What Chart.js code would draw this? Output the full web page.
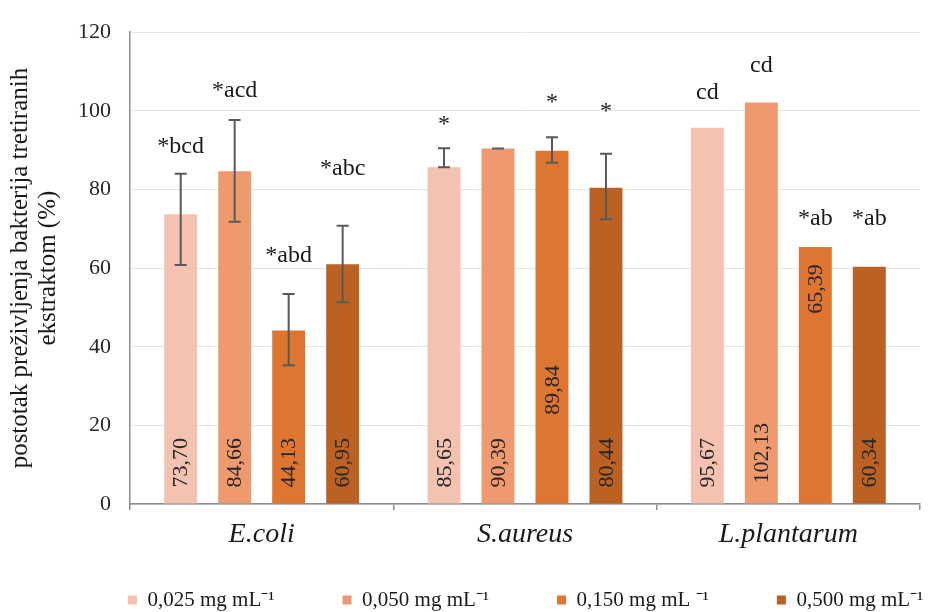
<!DOCTYPE html>
<html><head><meta charset="utf-8">
<script src="https://cdn.jsdelivr.net/npm/chart.js@4"></script>
<style>html,body{margin:0;padding:0;background:#fff}#c{display:block}</style>
</head><body>
<canvas id="c" width="929" height="612"></canvas>
<script>
const categories = ['E.coli', 'S.aureus', 'L.plantarum'];
const seriesNames = ['0,025 mg mL\u207B\u00B9', '0,050 mg mL\u207B\u00B9', '0,150 mg mL \u207B\u00B9', '0,500 mg mL\u207B\u00B9'];
const s025 = [73.70, 85.65, 95.67];
const s050 = [84.66, 90.39, 102.13];
const s150 = [44.13, 89.84, 65.39];
const s500 = [60.95, 80.44, 60.34];
// error bar ends (upper / lower), null = no error bar
const errHigh025 = [84.0, 90.5, null], errLow025 = [60.8, 85.65, null];
const errHigh050 = [97.7, 90.39, null], errLow050 = [71.8, 90.39, null];
const errHigh150 = [53.4, 93.3, null], errLow150 = [35.3, 86.8, null];
const errHigh500 = [70.8, 89.1, null], errLow500 = [51.3, 72.4, null];
// significance letters
const sig025 = ['*bcd', '*', 'cd'];
const sig050 = ['*acd', '', 'cd'];
const sig150 = ['*abd', '*', '*ab'];
const sig500 = ['*abc', '*', '*ab'];
const yTicks = [0, 20, 40, 60, 80, 100, 120];

const seriesValues = [s025, s050, s150, s500];
const errHigh = [errHigh025, errHigh050, errHigh150, errHigh500];
const errLow = [errLow025, errLow050, errLow150, errLow500];
const sigs = [sig025, sig050, sig150, sig500];
// placement of texts (in axis units)
const sigY = [[90.8, 96.5, 104.5], [105.2, null, 111.5], [63.1, 102.0, 72.6], [85.3, 99.8, 72.6]];
const valStart = [[4.2, 4.2, 4.2], [4.2, 4.2, 5.2], [4.2, 22.7, 48.4], [4.2, 4.2, 4.2]];
const colors = ['#F4C2B0', '#EF996E', '#DE7530', '#BC6124'];
const SERIF = '"Liberation Serif", "Times New Roman", serif';
const LEGEND_H = 63;        // height reserved for the legend box
const LEGEND_FIRST_X = 128; // left of first legend swatch
const LEGEND_TEXT_Y = 600;  // vertical centre of legend row

const overlay = {
  id: 'overlay',
  afterDatasetsDraw(chart) {
    const ctx = chart.ctx, ys = chart.scales.y;
    chart.data.datasets.forEach((ds, i) => {
      const meta = chart.getDatasetMeta(i);
      meta.data.forEach((bar, j) => {
        const x = bar.x;
        const hi = errHigh[i][j], lo = errLow[i][j];
        if (hi != null) {
          const yh = ys.getPixelForValue(hi), yl = ys.getPixelForValue(lo);
          ctx.save();
          ctx.strokeStyle = '#595959'; ctx.lineWidth = 2;
          ctx.beginPath();
          ctx.moveTo(x, yh); ctx.lineTo(x, yl);
          ctx.moveTo(x - 6, yh); ctx.lineTo(x + 6, yh);
          ctx.moveTo(x - 6, yl); ctx.lineTo(x + 6, yl);
          ctx.stroke();
          ctx.restore();
        }
        ctx.save();
        ctx.fillStyle = '#262626';
        ctx.font = '22px ' + SERIF;
        ctx.translate(x + 1, ys.getPixelForValue(valStart[i][j]));
        ctx.rotate(-Math.PI / 2);
        ctx.textAlign = 'left'; ctx.textBaseline = 'middle';
        ctx.fillText(seriesValues[i][j].toFixed(2).replace('.', ','), 0, 0);
        ctx.restore();
        const s = sigs[i][j];
        if (s) {
          ctx.save();
          ctx.fillStyle = '#1a1a1a';
          ctx.font = '24px ' + SERIF;
          ctx.textAlign = 'center'; ctx.textBaseline = 'middle';
          ctx.fillText(s, x, ys.getPixelForValue(sigY[i][j]));
          ctx.restore();
        }
      });
    });
  }
};

const legendFix = {
  id: 'legendFix',
  beforeLayout(chart) {
    const l = chart.legend;
    if (l && !l.__fixed) {
      const orig = l.fit;
      l.fit = function () {
        const mw = this.maxWidth;
        this.maxWidth = 5000;
        orig.call(this);
        this.maxWidth = mw;
        this.width = mw;
        this.height = LEGEND_H;
      };
      l.__fixed = true;
    }
  },
  afterLayout(chart) {
    const l = chart.legend;
    const p = l.options.labels.padding;
    const dx = LEGEND_FIRST_X - (l.left + p);
    const fs = l.options.labels.font.size;
    const curY = l.top + p + fs / 2;
    const dy = LEGEND_TEXT_Y - curY;
    l.left += dx; l.right = chart.width + 600; l.top += dy;
    l.bottom = chart.height;
    l.width = l.right - l.left;
    l.height = l.bottom - l.top;
  }
};

new Chart(document.getElementById('c'), {
  type: 'bar',
  data: {
    labels: categories,
    datasets: seriesValues.map((v, i) => ({
      label: seriesNames[i],
      data: v,
      backgroundColor: colors[i],
      borderWidth: 0,
      categoryPercentage: 0.82,
      barPercentage: 0.61
    }))
  },
  options: {
    responsive: false,
    animation: false,
    devicePixelRatio: 1,
    layout: { padding: { top: 22, right: 9, left: 0, bottom: 0 } },
    plugins: {
      tooltip: { enabled: false },
      legend: {
        position: 'bottom',
        align: 'start',
        labels: {
          boxWidth: 9, boxHeight: 9, padding: 68,
          color: '#1a1a1a',
          font: { family: SERIF, size: 21 }
        }
      }
    },
    scales: {
      x: {
        grid: { offset: true, drawOnChartArea: false, drawTicks: true, tickLength: 6, color: '#8c8c8c', lineWidth: 1.5 },
        border: { color: '#8c8c8c', width: 1.5 },
        ticks: { color: '#1a1a1a', padding: 8, font: { family: SERIF, size: 28, style: 'italic' } },
        afterFit(s) { s.height = 45; }
      },
      y: {
        min: 0, max: 120,
        afterBuildTicks(s) { s.ticks = yTicks.map(v => ({ value: v })); },
        grid: { color: '#e4e4e4', lineWidth: 1, drawTicks: false },
        border: { color: '#8c8c8c', width: 1.5 },
        ticks: { color: '#262626', padding: 19, font: { family: SERIF, size: 22 } },
        title: {
          display: true,
          text: ['postotak preživljenja bakterija tretiranih', 'ekstraktom (%)'],
          color: '#1a1a1a',
          font: { family: SERIF, size: 25, lineHeight: 1.1 },
          padding: { top: 7, bottom: 0 }
        },
        afterFit(s) { s.width = 130; }
      }
    }
  },
  plugins: [overlay, legendFix]
});
</script>
</body></html>
